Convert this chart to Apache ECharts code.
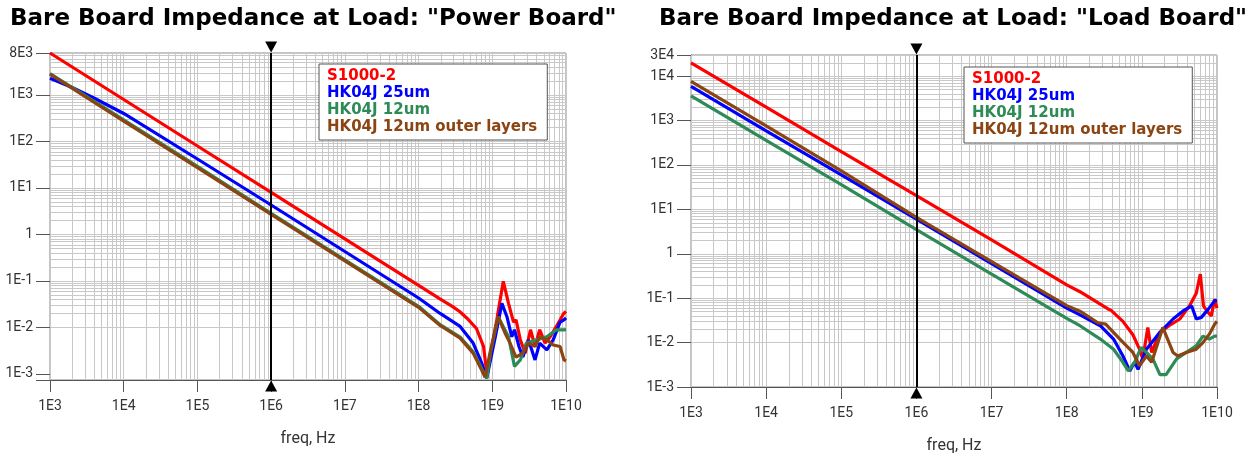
<!DOCTYPE html>
<html>
<head>
<meta charset="utf-8">
<script src="https://cdn.jsdelivr.net/npm/echarts@6/dist/echarts.min.js"></script>
<style>
  html, body { margin: 0; padding: 0; background: #fff; }
  #chart { width: 1247px; height: 459px; }
</style>
</head>
<body>
<div id="chart"></div>
<script>
// series names / colours (shared by both panels)
const seriesNames = ['S1000-2', 'HK04J 25um', 'HK04J 12um', 'HK04J 12um outer layers']
const seriesColors = ['#ff0000', '#0000ff', '#2e8b57', '#8b4513']

// Power Board (left) - freq in Hz, impedance in Ohm
const powerRedFreq = [1e3, 1e4, 1e5, 1e6, 1e7, 1e8, 1.95e8, 2.9e8, 3.6e8, 4.5e8, 6.1e8, 7.6e8, 8.5e8, 8.9e8, 1.15e9, 1.41e9, 1.66e9, 1.94e9, 2.1e9, 2.4e9, 2.8e9, 3.3e9, 3.8e9, 4.4e9, 5.2e9, 6.1e9, 7.4e9, 9.3e9, 1e10]
const powerRedZ = [8000, 800, 80, 8, 0.8, 0.08, 0.041, 0.028, 0.022, 0.016, 0.0095, 0.0039, 0.00095, 0.00087, 0.0145, 0.098, 0.033, 0.013, 0.0145, 0.0054, 0.0028, 0.0089, 0.0039, 0.0089, 0.0046, 0.0063, 0.0105, 0.02, 0.022]
const powerBlueFreq = [1e3, 2e3, 4e3, 1e4, 1e5, 1e6, 1e7, 1e8, 1.96e8, 3.66e8, 5.5e8, 7.2e8, 8.4e8, 1.1e9, 1.35e9, 1.58e9, 1.84e9, 2.0e9, 2.3e9, 2.6e9, 3.1e9, 3.8e9, 4.4e9, 5.5e9, 6.7e9, 8.3e9, 9.4e9, 1e10]
const powerBlueZ = [2300, 1450, 850, 400, 42, 4.3, 0.43, 0.043, 0.020, 0.0105, 0.0046, 0.0017, 0.00081, 0.0063, 0.033, 0.017, 0.0063, 0.0089, 0.0039, 0.0023, 0.0054, 0.002, 0.0046, 0.0033, 0.0054, 0.013, 0.0145, 0.016]
const powerGreenFreq = [1e3, 1e4, 1e5, 1e6, 1e7, 1e8, 1.96e8, 3.66e8, 5.5e8, 7.2e8, 8.4e8, 9.5e8, 1.2e9, 1.66e9, 2.0e9, 2.4e9, 2.9e9, 4.0e9, 5.5e9, 7.4e9, 9.3e9, 1e10]
const powerGreenZ = [2900, 290, 29, 2.85, 0.285, 0.0285, 0.0115, 0.0062, 0.003, 0.0013, 0.0008, 0.003, 0.017, 0.0063, 0.00145, 0.002, 0.0046, 0.0054, 0.0063, 0.0089, 0.0089, 0.009]
const powerBrownFreq = [1e3, 1e4, 1e5, 1e6, 1e7, 1e8, 1.96e8, 3.66e8, 5.5e8, 7.2e8, 8e8, 9.3e8, 1.2e9, 1.5e9, 1.74e9, 2.1e9, 2.6e9, 3.1e9, 3.8e9, 4.4e9, 5.5e9, 6.7e9, 8.3e9, 9.4e9, 1e10]
const powerBrownZ = [2800, 275, 27.5, 2.7, 0.27, 0.027, 0.011, 0.0059, 0.0028, 0.0012, 0.00085, 0.0028, 0.017, 0.0074, 0.0046, 0.0023, 0.0028, 0.0046, 0.0039, 0.0063, 0.0054, 0.0042, 0.0039, 0.002, 0.0019]

// Load Board (right)
const loadRedFreq = [1e3, 1e4, 1e5, 1e6, 1e7, 1e8, 1.5e8, 3.5e8, 3.7e8, 3.9e8, 5.6e8, 7.6e8, 9.3e8, 1.03e9, 1.2e9, 1.35e9, 1.74e9, 2.3e9, 3.2e9, 4.3e9, 5.3e9, 6.0e9, 6.6e9, 7.6e9, 8.4e9, 9.3e9, 1e10]
const loadRedZ = [20000, 2000, 200, 20.5, 2.05, 0.2, 0.14, 0.058, 0.062, 0.053, 0.03, 0.015, 0.0071, 0.0043, 0.022, 0.006, 0.017, 0.024, 0.034, 0.067, 0.13, 0.35, 0.067, 0.048, 0.04, 0.095, 0.06]
const loadBlueFreq = [1e3, 1e4, 1e5, 1e6, 1e7, 1e8, 1.5e8, 2.8e8, 4.2e8, 5.6e8, 6.9e8, 8e8, 8.9e8, 1.15e9, 1.74e9, 2.6e9, 3.5e9, 4.6e9, 5.3e9, 6.2e9, 7.6e9, 9.3e9, 1e10]
const loadBlueZ = [5900, 590, 60, 6.0, 0.6, 0.06, 0.042, 0.024, 0.012, 0.005, 0.0023, 0.0036, 0.0025, 0.0071, 0.017, 0.034, 0.051, 0.067, 0.034, 0.037, 0.056, 0.087, 0.09]
const loadGreenFreq = [1e3, 1e4, 1e5, 1e6, 1e7, 1e8, 1.5e8, 2.8e8, 4.2e8, 5.6e8, 6.6e8, 8e8, 9.8e8, 1.15e9, 1.4e9, 1.74e9, 2.1e9, 2.9e9, 3.9e9, 5.3e9, 6.5e9, 7.9e9, 9.3e9, 1e10]
const loadGreenZ = [3600, 360, 36, 3.5, 0.35, 0.035, 0.024, 0.012, 0.0071, 0.0036, 0.0023, 0.0036, 0.0078, 0.006, 0.0043, 0.0019, 0.0019, 0.0043, 0.006, 0.0085, 0.014, 0.012, 0.014, 0.014]
const loadBrownFreq = [1e3, 1e4, 1e5, 1e6, 1e7, 1e8, 1.5e8, 2.6e8, 3.3e8, 5.1e8, 7.6e8, 9.3e8, 1.15e9, 1.35e9, 1.9e9, 2.2e9, 2.6e9, 3.0e9, 3.9e9, 5.3e9, 6.5e9, 7.9e9, 9.3e9, 1e10]
const loadBrownZ = [7600, 760, 74, 6.6, 0.67, 0.068, 0.051, 0.028, 0.026, 0.012, 0.006, 0.003, 0.005, 0.0036, 0.022, 0.012, 0.006, 0.005, 0.006, 0.0071, 0.01, 0.0155, 0.026, 0.03]

// axis ranges
const freqMin = 1e3
const freqMax = 1e10
const powerZMin = 7.4e-4
const powerZMax = 8e3
const loadZMin = 1e-3
const loadZMax = 3e4
const markerFreq = 1e6

const chart = echarts.init(document.getElementById('chart'))

function pairs(f, z) {
  return f.map((v, i) => [v, z[i]])
}

/** 1,2,..9 x 10^n between lo and hi, for the log grid */
function logGridValues(lo, hi) {
  const out = []
  for (let e = Math.floor(Math.log10(lo)); e <= Math.ceil(Math.log10(hi)); e++) {
    for (let m = 1; m <= 9; m++) {
      const v = m * Math.pow(10, e)
      if (v >= lo * 0.999 && v <= hi * 1.001) out.push(v)
    }
  }
  return out
}

/** 1E3 style labels */
function expLabel(v) {
  const e = Math.floor(Math.log10(v) + 1e-9)
  const m = Math.round(v / Math.pow(10, e))
  if (Math.abs(m * Math.pow(10, e) - v) / v > 0.01) return ''
  if (e === 0 && m === 1) return '1'
  return m + 'E' + e
}

function xAxisFor(gi) {
  return {
    type: 'log', gridIndex: gi, min: freqMin, max: freqMax, splitNumber: 7,
    name: 'freq, Hz', nameLocation: 'middle', nameGap: 51,
    nameTextStyle: { fontFamily: 'Roboto', fontSize: 16, color: '#333' },
    axisLine: { lineStyle: { color: '#555', width: 1 } },
    axisTick: { show: true, length: 12, lineStyle: { color: '#555' } },
    axisLabel: { margin: 19, fontFamily: 'Roboto', fontSize: 14, color: '#333', formatter: expLabel },
    splitLine: { show: false }
  }
}

function yAxisFor(gi, lo, hi) {
  return {
    type: 'log', gridIndex: gi, min: lo, max: hi, splitNumber: 7,
    axisLine: { lineStyle: { color: '#555', width: 1 } },
    axisTick: { show: true, length: 14, lineStyle: { color: '#555' } },
    axisLabel: { margin: 17, fontFamily: 'Roboto', fontSize: 14, color: '#333', formatter: expLabel },
    splitLine: { show: false }
  }
}

// grid lines + 1E6 marker, drawn on empty helper series
function helperSeries(gi, lo, hi) {
  const vx = logGridValues(freqMin, freqMax)
  const vy = logGridValues(lo, hi)
  return [
    {
      type: 'line', xAxisIndex: gi, yAxisIndex: gi, data: [], silent: true, z: 1,
      markLine: {
        silent: true, symbol: ['none', 'none'], label: { show: false }, z: 1,
        lineStyle: { color: '#c8c8c8', width: 1, type: 'solid' },
        emphasis: { disabled: true },
        data: vx.map((v) => ({ xAxis: v })).concat(vy.map((v) => ({ yAxis: v })))
      }
    },
    {
      type: 'line', xAxisIndex: gi, yAxisIndex: gi, data: [], silent: true, z: 10,
      markLine: {
        silent: true, symbol: ['none', 'none'], label: { show: false }, z: 10,
        lineStyle: { color: '#000', width: 2, type: 'solid' },
        emphasis: { disabled: true },
        data: [{ xAxis: markerFreq }]
      },
      markPoint: {
        silent: true, label: { show: false }, z: 10,
        itemStyle: { color: '#000' },
        data: [
          { coord: [markerFreq, hi], symbol: 'triangle', symbolRotate: 180, symbolSize: [12, 11], symbolOffset: [0, -6] },
          { coord: [markerFreq, lo], symbol: 'triangle', symbolSize: [12, 11], symbolOffset: [0, 6] }
        ]
      }
    }
  ]
}

function curve(gi, idx, f, z) {
  return {
    name: seriesNames[idx], type: 'line', xAxisIndex: gi, yAxisIndex: gi,
    data: pairs(f, z), showSymbol: false, z: 3,
    lineStyle: { color: seriesColors[idx], width: 3.2 },
    itemStyle: { color: seriesColors[idx] }
  }
}

function legendAt(left, top) {
  return {
    left, top, orient: 'vertical', selectedMode: false,
    icon: 'none', itemWidth: 0, itemHeight: 15, itemGap: 2,
    padding: [5, 10, 5, 3],
    backgroundColor: '#fff', borderColor: '#555', borderWidth: 1,
    textStyle: { fontFamily: 'DejaVu Sans', fontWeight: 'bold', fontSize: 15 },
    data: seriesNames.map((n, i) => ({ name: n, textStyle: { color: seriesColors[i] } }))
  }
}

const titleStyle = { fontFamily: 'DejaVu Sans', fontWeight: 'bold', fontSize: 23, color: '#000' }

chart.setOption({
  animation: false,
  title: [
    { text: 'Bare Board Impedance at Load: "Power Board"', left: 10, top: 8, padding: 0, textStyle: titleStyle },
    { text: 'Bare Board Impedance at Load: "Load Board"', left: 659, top: 8, padding: 0, textStyle: titleStyle }
  ],
  legend: [legendAt(319, 64), legendAt(964, 67)],
  grid: [
    { left: 50, right: 681, top: 53, bottom: 79, show: true, borderColor: '#888', borderWidth: 1, backgroundColor: '#fff' },
    { left: 691, right: 30, top: 55, bottom: 71, show: true, borderColor: '#888', borderWidth: 1, backgroundColor: '#fff' }
  ],
  xAxis: [xAxisFor(0), xAxisFor(1)],
  yAxis: [yAxisFor(0, powerZMin, powerZMax), yAxisFor(1, loadZMin, loadZMax)],
  series: [
    ...helperSeries(0, powerZMin, powerZMax),
    curve(0, 0, powerRedFreq, powerRedZ),
    curve(0, 1, powerBlueFreq, powerBlueZ),
    curve(0, 2, powerGreenFreq, powerGreenZ),
    curve(0, 3, powerBrownFreq, powerBrownZ),
    ...helperSeries(1, loadZMin, loadZMax),
    curve(1, 0, loadRedFreq, loadRedZ),
    curve(1, 1, loadBlueFreq, loadBlueZ),
    curve(1, 2, loadGreenFreq, loadGreenZ),
    curve(1, 3, loadBrownFreq, loadBrownZ)
  ]
})
</script>
</body>
</html>
